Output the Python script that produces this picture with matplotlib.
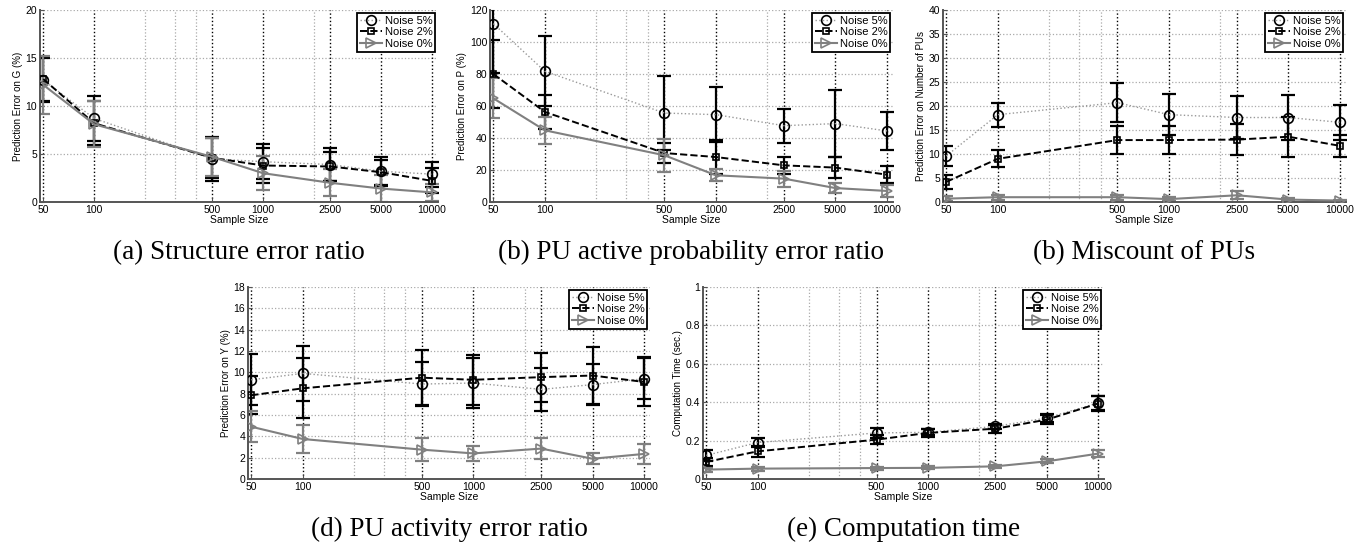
import matplotlib
matplotlib.use('Agg')
import matplotlib.pyplot as plt

plt.rcParams['font.family'] = ['Liberation Sans', 'DejaVu Sans']

sizes = [50, 100, 500, 1000, 2500, 5000, 10000]
size_labels = ['50', '100', '500', '1000', '2500', '5000', '10000']
minor_sizes = [200, 300, 400, 2000]
series_labels = ['Noise 5%', 'Noise 2%', 'Noise 0%']

# (a) structure error ratio
a_n5 = [12.7, 8.7, 4.5, 4.2, 3.9, 3.2, 2.9]
a_n5_err = [2.3, 2.3, 2.3, 1.8, 1.7, 1.5, 1.3]
a_n2 = [12.8, 8.2, 4.6, 3.8, 3.7, 3.1, 2.2]
a_n2_err = [2.3, 2.3, 2.1, 1.8, 1.5, 1.3, 1.3]
a_n0 = [12.2, 8.1, 4.7, 3.0, 2.0, 1.4, 1.0]
a_n0_err = [3.0, 2.4, 2.0, 1.8, 1.4, 1.4, 0.9]

# (b) PU active probability error ratio
b_n5 = [111.5, 81.7, 55.6, 54.6, 47.7, 49.0, 44.4]
b_n5_err = [31.0, 21.8, 22.9, 17.0, 10.7, 21.0, 11.8]
b_n2 = [80.0, 56.3, 30.6, 28.1, 22.9, 21.5, 17.1]
b_n2_err = [21.0, 10.8, 6.0, 10.5, 5.5, 6.7, 5.3]
b_n0 = [64.8, 44.8, 29.2, 16.7, 14.6, 8.7, 6.9]
b_n0_err = [12.5, 8.3, 10.4, 3.8, 5.0, 3.2, 4.0]

# (c) miscount of PUs
c_n5 = [9.6, 18.2, 20.7, 18.2, 17.6, 17.6, 16.6]
c_n5_err = [2.1, 2.5, 4.0, 4.2, 4.5, 4.6, 3.7]
c_n2 = [4.2, 9.0, 12.9, 12.9, 13.0, 13.6, 11.7]
c_n2_err = [1.5, 1.75, 3.0, 3.0, 3.3, 4.2, 2.3]
c_n0 = [0.7, 1.0, 1.0, 0.6, 1.4, 0.5, 0.3]
c_n0_err = [0.5, 0.5, 0.5, 0.4, 0.8, 0.3, 0.2]

# (d) PU activity error ratio
d_n5 = [9.3, 9.9, 8.9, 9.0, 8.4, 8.85, 9.4]
d_n5_err = [2.4, 2.6, 2.1, 2.3, 2.0, 1.95, 1.9]
d_n2 = [7.85, 8.5, 9.5, 9.3, 9.55, 9.7, 9.1]
d_n2_err = [1.8, 2.8, 2.6, 2.35, 2.3, 2.7, 2.3]
d_n0 = [4.9, 3.75, 2.75, 2.4, 2.85, 1.9, 2.35]
d_n0_err = [1.45, 1.35, 1.05, 0.7, 1.0, 0.5, 0.9]

# (e) computation time
e_n5 = [0.123, 0.19, 0.24, 0.243, 0.274, 0.318, 0.396]
e_n5_err = [0.027, 0.025, 0.025, 0.015, 0.015, 0.02, 0.035]
e_n2 = [0.089, 0.144, 0.205, 0.24, 0.262, 0.309, 0.393]
e_n2_err = [0.02, 0.028, 0.025, 0.02, 0.02, 0.025, 0.04]
e_n0 = [0.049, 0.054, 0.057, 0.058, 0.066, 0.092, 0.132]
e_n0_err = [0.01, 0.01, 0.008, 0.008, 0.008, 0.01, 0.02]

GRAY = '#808080'
styles = [
    dict(marker='o', ms=7, ls=':', lc='#999999', mc='black', ec='black', lw=1.0),
    dict(marker='s', ms=5, ls='--', lc='black', mc='black', ec='black', lw=1.4),
    dict(marker='>', ms=7, ls='-', lc=GRAY, mc=GRAY, ec=GRAY, lw=1.5),
]

panels = [
    dict(rect=[40, 10, 398], data=[(a_n5, a_n5_err), (a_n2, a_n2_err), (a_n0, a_n0_err)],
         ylim=20, yticks=[0, 5, 10, 15, 20], ylabel='Prediction Error on G (%)',
         caption='(a) Structure error ratio', cap_base=259),
    dict(rect=[490, 10, 403], data=[(b_n5, b_n5_err), (b_n2, b_n2_err), (b_n0, b_n0_err)],
         ylim=120, yticks=[0, 20, 40, 60, 80, 100, 120], ylabel='Prediction Error on P (%)',
         caption='(b) PU active probability error ratio', cap_base=259),
    dict(rect=[943, 10, 403], data=[(c_n5, c_n5_err), (c_n2, c_n2_err), (c_n0, c_n0_err)],
         ylim=40, yticks=[0, 5, 10, 15, 20, 25, 30, 35, 40], ylabel='Prediction Error on Number of PUs',
         caption='(b) Miscount of PUs', cap_base=259),
    dict(rect=[248, 287, 402], data=[(d_n5, d_n5_err), (d_n2, d_n2_err), (d_n0, d_n0_err)],
         ylim=18, yticks=[0, 2, 4, 6, 8, 10, 12, 14, 16, 18], ylabel='Prediction Error on Y (%)',
         caption='(d) PU activity error ratio', cap_base=536),
    dict(rect=[703, 287, 401], data=[(e_n5, e_n5_err), (e_n2, e_n2_err), (e_n0, e_n0_err)],
         ylim=1, yticks=[0, 0.2, 0.4, 0.6, 0.8, 1], ylabel='Computation Time (sec.)',
         caption='(e) Computation time', cap_base=536),
]

W, H = 1367, 544
AX_H = 192
fig = plt.figure(figsize=(W / 100, H / 100), dpi=100)

for p in panels:
    left, top, width = p['rect']
    ax = fig.add_axes([left / W, 1 - (top + AX_H) / H, width / W, AX_H / H])
    ax.set_xscale('log')
    ax.set_xlim(47.8, 10850)
    ax.set_ylim(0, p['ylim'])

    # grid
    for yv in p['yticks']:
        ax.axhline(yv, color='#aaaaaa', ls=':', lw=0.9, zorder=0)
    for xv in minor_sizes:
        ax.axvline(xv, color='#aaaaaa', ls=':', lw=0.9, zorder=0)
    for xv in sizes:
        ax.axvline(xv, color='black', ls=':', lw=1.0, zorder=0.5)

    handles = []
    for (vals, errs), st, lab in zip(p['data'], styles, series_labels):
        ax.errorbar(sizes, vals, yerr=errs, fmt='none', ecolor=st['ec'],
                    elinewidth=1.6, capsize=4.7, capthick=1.6, zorder=2)
        h, = ax.plot(sizes, vals, ls=st['ls'], color=st['lc'], lw=st['lw'],
                     marker=st['marker'], ms=st['ms'], mfc='none', mec=st['mc'],
                     mew=1.2, zorder=3, label=lab)
        handles.append(h)

    ax.set_xticks(sizes)
    ax.set_xticklabels(size_labels)
    ax.xaxis.set_minor_locator(matplotlib.ticker.NullLocator())
    ax.set_yticks(p['yticks'])
    ax.set_yticklabels([f'{v:g}' for v in p['yticks']])
    ax.tick_params(axis='both', labelsize=7.5, direction='in', length=3,
                   width=0.8, color='#555555', pad=2)
    ax.set_xlabel('Sample Size', fontsize=7.5, labelpad=0)
    ax.set_ylabel(p['ylabel'], fontsize=7, labelpad=2)

    for side in ['top', 'right']:
        ax.spines[side].set_visible(False)
    for side in ['left', 'bottom']:
        ax.spines[side].set_color('#555555')
        ax.spines[side].set_linewidth(1.4)

    leg = ax.legend(handles=handles, loc='upper right', fontsize=8, markerfirst=True,
                    handlelength=2.0, handletextpad=0.2, labelspacing=0.15,
                    borderpad=0.25, borderaxespad=0.25, fancybox=False,
                    framealpha=1, numpoints=1)
    leg.get_frame().set_edgecolor('black')
    leg.get_frame().set_linewidth(1.3)

    cx = (left + width / 2) / W
    cy = 1 - p['cap_base'] / H
    fig.text(cx, cy, p['caption'], ha='center', va='baseline', fontsize=19.5,
             family=['Liberation Serif', 'DejaVu Serif'])

fig.savefig('out.png', dpi=100)
